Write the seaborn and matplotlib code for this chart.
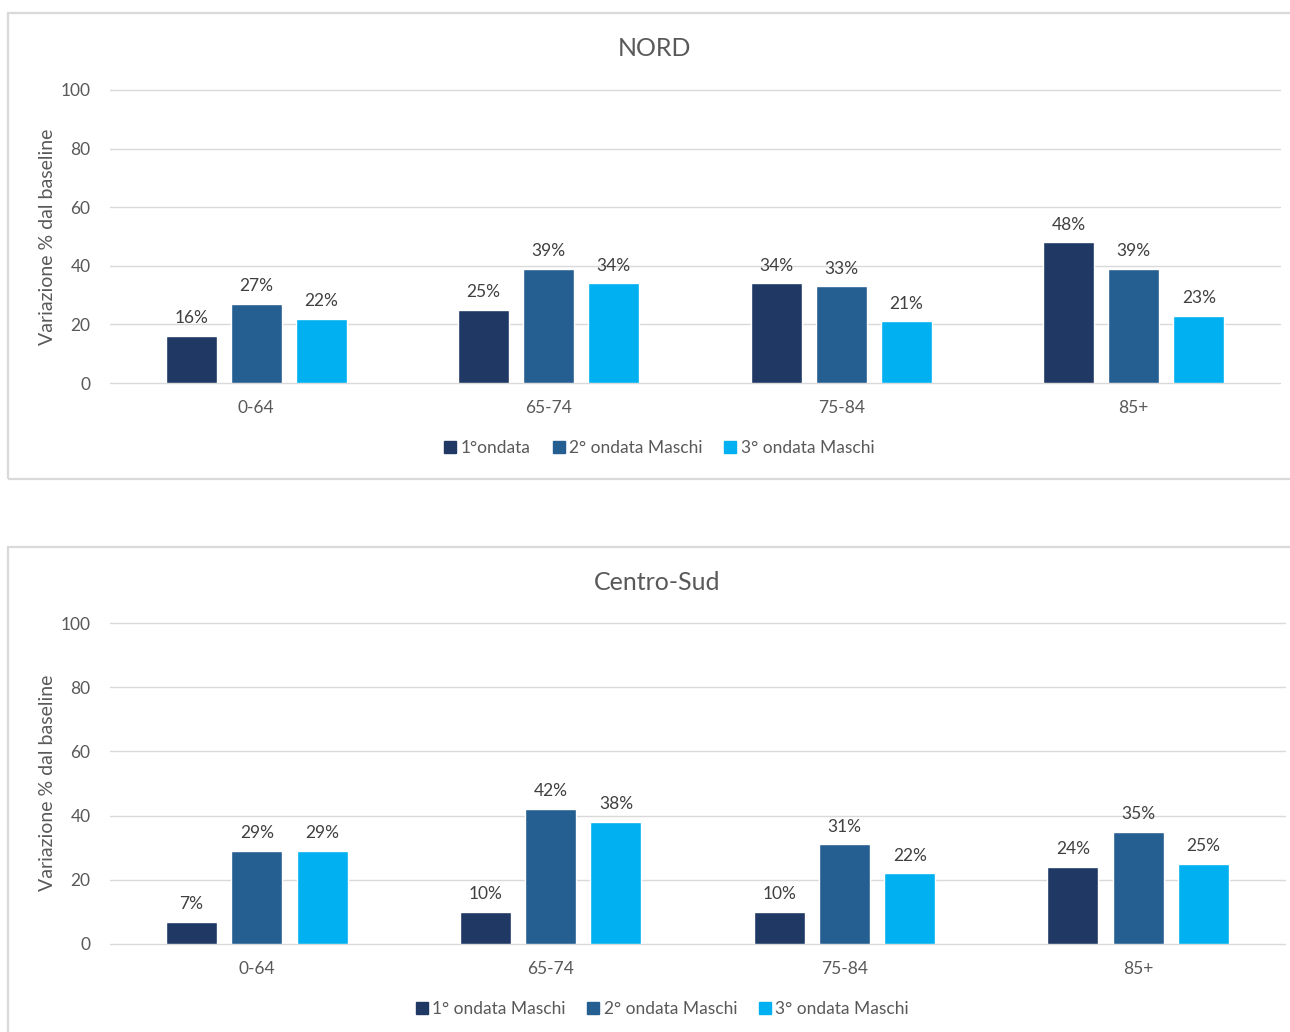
import pandas as pd
import numpy as np
import matplotlib.pyplot as plt
import seaborn as sns
from matplotlib.patches import Rectangle
from matplotlib.lines import Line2D

### Data
age_groups = ['0-64', '65-74', '75-84', '85+']

# NORD
nord_series = ['1°ondata', '2° ondata Maschi', '3° ondata Maschi']
nord_w1 = [16, 25, 34, 48]
nord_w2 = [27, 39, 33, 39]
nord_w3 = [22, 34, 21, 23]

# Centro-Sud
cs_series = ['1° ondata Maschi', '2° ondata Maschi', '3° ondata Maschi']
cs_w1 = [7, 10, 10, 24]
cs_w2 = [29, 42, 31, 35]
cs_w3 = [29, 38, 22, 25]

colors = ['#1F3864', '#255E91', '#00B0F0']
text_col = '#595959'
grid_col = '#D9D9D9'

sns.set_style('white')
plt.rcParams['font.family'] = ['Lato', 'DejaVu Sans']


def make_df(series, w1, w2, w3):
    rows = []
    for name, vals in zip(series, [w1, w2, w3]):
        for g, v in zip(age_groups, vals):
            rows.append({'group': g, 'wave': name, 'value': v})
    return pd.DataFrame(rows)


def panel(fig, rect, frame, title, title_xy, ylab_xy, leg_xy, df, series):
    # grey frame around each chart, like the excel export
    fig.patches.append(Rectangle(frame[:2], frame[2], frame[3], transform=fig.transFigure,
                                 fill=False, edgecolor=grid_col, linewidth=1.6))
    ax = fig.add_axes(rect)
    sns.barplot(data=df, x='group', y='value', hue='wave', hue_order=series,
                palette=colors, width=0.667, gap=0.22, ax=ax, legend=False,
                saturation=1, errorbar=None)
    for cont in ax.containers:
        ax.bar_label(cont, fmt='%d%%', padding=7, fontsize=12.5, color='#404040')
    ax.set_ylim(0, 100)
    ax.set_xlim(-0.5, 3.5)
    ax.set_yticks(range(0, 101, 20))
    ax.yaxis.grid(True, color=grid_col, linewidth=1)
    for gl in ax.get_ygridlines():
        gl.set_clip_on(False)
    ax.set_axisbelow(True)
    for s in ax.spines.values():
        s.set_visible(False)
    ax.tick_params(axis='both', length=0, labelsize=12.5, labelcolor=text_col)
    ax.tick_params(axis='x', pad=12)
    ax.tick_params(axis='y', pad=14)
    ax.set_xlabel('')
    ax.set_ylabel('')
    fig.text(title_xy[0], title_xy[1], title, ha='center', va='center',
             fontsize=18, color=text_col)
    fig.text(ylab_xy[0], ylab_xy[1], 'Variazione % dal baseline', rotation=90,
             ha='center', va='center', fontsize=14, color=text_col)
    handles = [Line2D([], [], marker='s', linestyle='', markersize=8, color=c)
               for c in colors]
    fig.legend(handles, series, loc='center', bbox_to_anchor=leg_xy, ncol=3,
               frameon=False, fontsize=12.5, labelcolor=text_col,
               handletextpad=0.1, columnspacing=1.1, handlelength=1)
    return ax


fig = plt.figure(figsize=(12.9, 10.32), dpi=100)
W, H = 1290, 1032

panel(fig, [110 / W, 1 - 383 / H, 1170 / W, 293 / H],
      [8 / W, 1 - 479 / H, 1.0, 466 / H],
      'NORD', (655 / W, 1 - 48 / H), (48 / W, 1 - 237 / H), (658 / W, 1 - 448 / H),
      make_df(nord_series, nord_w1, nord_w2, nord_w3), nord_series)

panel(fig, [110 / W, 1 - 944 / H, 1175 / W, 321 / H],
      [8 / W, -0.05, 1.0, 1 - 547 / H + 0.05],
      'Centro-Sud', (657 / W, 1 - 582 / H), (48 / W, 1 - 783 / H), (661 / W, 1 - 1009 / H),
      make_df(cs_series, cs_w1, cs_w2, cs_w3), cs_series)

fig.savefig('out.png', dpi=100)
